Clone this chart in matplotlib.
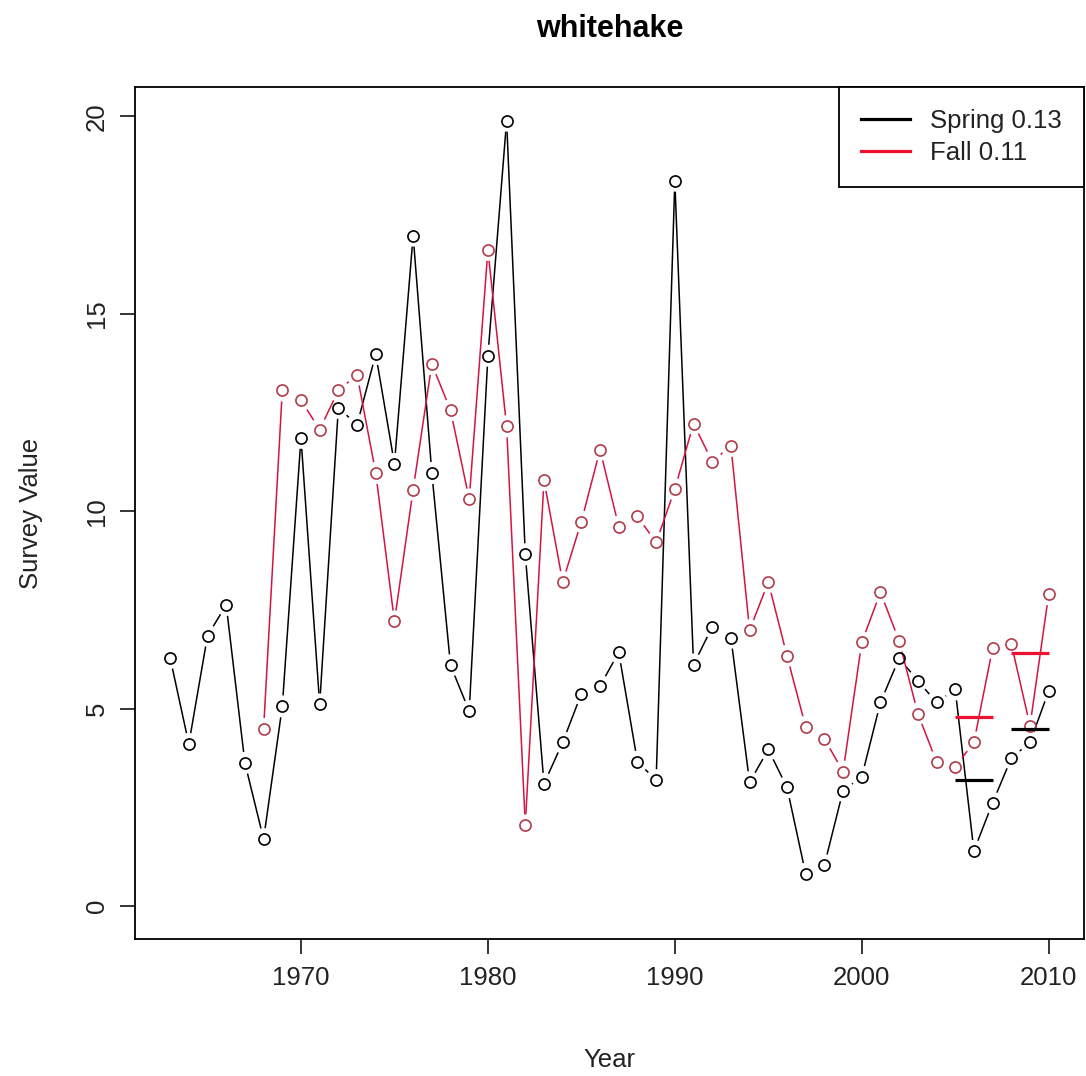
import numpy as np
import matplotlib
matplotlib.use("Agg")
import matplotlib.pyplot as plt
from matplotlib.collections import LineCollection

plt.rcParams['font.family'] = ['Liberation Sans', 'DejaVu Sans']

# survey index by year
spring_years = list(range(1963, 2011))
spring_vals = [6.29, 4.11, 6.85, 7.63, 3.63, 1.70, 5.06, 11.86, 5.11, 12.62,
               12.19, 13.98, 11.20, 16.98, 10.97, 6.10, 4.94, 13.94, 19.89, 8.91,
               3.10, 4.15, 5.38, 5.58, 6.43, 3.66, 3.19, 18.37, 6.12, 7.07,
               6.80, 3.14, 3.97, 3.01, 0.82, 1.04, 2.93, 3.28, 5.16, 6.28,
               5.71, 5.16, 5.49, 1.40, 2.62, 3.75, 4.15, 5.45]

fall_years = list(range(1968, 2011))
fall_vals = [4.49, 13.06, 12.81, 12.07, 13.06, 13.46, 10.97, 7.21, 10.55, 13.73,
             12.56, 10.30, 16.62, 12.15, 2.05, 10.79, 8.21, 9.74, 11.56, 9.61,
             9.87, 9.21, 10.56, 12.22, 11.26, 11.66, 6.99, 8.21, 6.34, 4.54,
             4.24, 3.41, 6.68, 7.95, 6.72, 4.88, 3.66, 3.53, 4.15, 6.54,
             6.65, 4.57, 7.90]

# three-year averages shown as short bars
avg_periods = [(2005, 2007), (2008, 2010)]
spring_avg = [3.2, 4.5]
fall_avg = [4.8, 6.4]

legend_labels = ["Spring 0.13", "Fall 0.11"]

RED_LINE = "#d41444"
RED_PT = "#b23a4a"


def gapped_line(ax, xs, ys, color, gap_px=11, lw=1.1):
    # R type="b": segments stop short of each point
    pts = ax.transData.transform(np.column_stack([xs, ys]))
    inv = ax.transData.inverted()
    segs = []
    for p0, p1 in zip(pts[:-1], pts[1:]):
        d = p1 - p0
        L = np.hypot(*d)
        if L <= 2 * gap_px:
            continue
        u = d / L
        segs.append(inv.transform(np.array([p0 + u * gap_px, p1 - u * gap_px])))
    ax.add_collection(LineCollection(segs, colors=color, linewidths=lw))


fig = plt.figure(figsize=(10.86, 10.76), dpi=100)
ax = fig.add_axes([0.1243, 0.1269, 0.8737, 0.7918])
ax.set_xlim(1961.12, 2011.88)
ax.set_ylim(-0.84, 20.73)

gapped_line(ax, spring_years, spring_vals, "black")
gapped_line(ax, fall_years, fall_vals, RED_LINE)

ax.plot(spring_years, spring_vals, linestyle="none", marker="o", ms=8,
        mfc="none", mec="black", mew=1.2)
ax.plot(fall_years, fall_vals, linestyle="none", marker="o", ms=8,
        mfc="none", mec=RED_PT, mew=1.2)

for (y0, y1), s, f in zip(avg_periods, spring_avg, fall_avg):
    ax.plot([y0, y1], [s, s], color="black", lw=2.3, solid_capstyle="butt")
    ax.plot([y0, y1], [f, f], color="#ee1030", lw=2.3, solid_capstyle="butt")

ax.set_xticks([1970, 1980, 1990, 2000, 2010])
ax.set_yticks([0, 5, 10, 15, 20])
ax.tick_params(labelsize=18.5, length=11, width=1.1, color="black",
               labelcolor="#222222", pad=8)
for lab in ax.get_yticklabels():
    lab.set_rotation(90)
    lab.set_va("center")
for sp in ax.spines.values():
    sp.set_linewidth(1.3)

ax.set_xlabel("Year", fontsize=18.5, color="#222222", labelpad=42)
ax.set_ylabel("Survey Value", fontsize=18.5, color="#222222", labelpad=30)
ax.set_title("whitehake", fontsize=22, fontweight="bold", pad=36)

h1, = ax.plot([], [], color="black", lw=2.3)
h2, = ax.plot([], [], color="#ee1030", lw=2.3)
leg = ax.legend([h1, h2], legend_labels, loc="upper right", fontsize=18.5,
                frameon=True, fancybox=False, framealpha=1, borderaxespad=0,
                handlelength=1.9, handletextpad=0.8, borderpad=0.85,
                labelspacing=0.3)
leg.get_frame().set_edgecolor("black")
leg.get_frame().set_linewidth(1.3)
for t in leg.get_texts():
    t.set_color("#222222")

fig.savefig("out.png", dpi=100)
